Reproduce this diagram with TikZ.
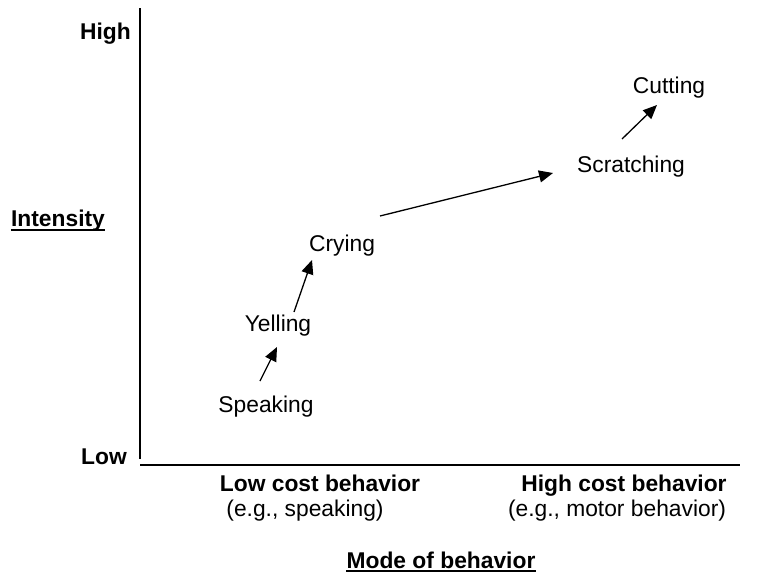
\documentclass[tikz,border=0pt]{standalone}
\usepackage{fontspec}
\setmainfont{Liberation Sans}
\usetikzlibrary{arrows.meta,calc}
\begin{document}
\begin{tikzpicture}[x=1pt,y=-1pt,
  lbl/.style={inner sep=0pt,font=\fontsize{22.8}{26}\selectfont},
  blbl/.style={inner sep=0pt,font=\fontsize{22.8}{26}\selectfont\bfseries},
  arr/.style={line width=1.3pt,-{Triangle[length=14pt,width=12pt]}},
  uline/.style={line width=1.5pt}]
\useasboundingbox (0,0) rectangle (760,581);
% axes
\coordinate (ytop) at (140,8);
\coordinate (ybot) at (140,459);
\coordinate (xl) at (140,465);
\coordinate (xr) at (740,465);
\draw[line width=1.3pt] (ytop) -- (ybot);
\draw[line width=2.6pt] (xl) -- (xr);
% axis labels
\node[blbl,anchor=east] (high) at (131,34) {High};
\node[blbl,anchor=east] (low) at (127,457) {Low};
\node[blbl] (intensity) at (58,221) {Intensity};
\draw[uline] ([yshift=-3pt]intensity.base west) -- ([yshift=-3pt]intensity.base east);
\node[blbl] (lowcost) at (320,483) {Low cost behavior};
\node[lbl] (lowex) at (305,511) {(e.g., speaking)};
\node[blbl] (highcost) at (624,486) {High cost behavior};
\node[lbl] (highex) at (617,511) {(e.g., motor behavior)};
\node[blbl] (mode) at (441,560) {Mode of behavior};
\draw[uline] ([yshift=-3pt]mode.base west) -- ([yshift=-3pt]mode.base east);
% behaviours
\node[lbl] (speaking) at (266,407) {Speaking};
\node[lbl] (yelling) at (278,326) {Yelling};
\node[lbl] (crying) at (342,246) {Crying};
\node[lbl] (scratching) at (631,167) {Scratching};
\node[lbl] (cutting) at (669,88) {Cutting};
% arrows
\draw[arr] ($(speaking)+(-6,-26)$) -- ($(yelling)+(-1,21)$);
\draw[arr] ($(yelling)+(16,-14)$) -- ($(crying)+(-30,14)$);
\draw[arr] ($(crying)+(38,-30)$) -- ($(scratching)+(-78,6)$);
\draw[arr] ($(scratching)+(-9,-28)$) -- ($(cutting)+(-12,17)$);
\end{tikzpicture}
\end{document}
